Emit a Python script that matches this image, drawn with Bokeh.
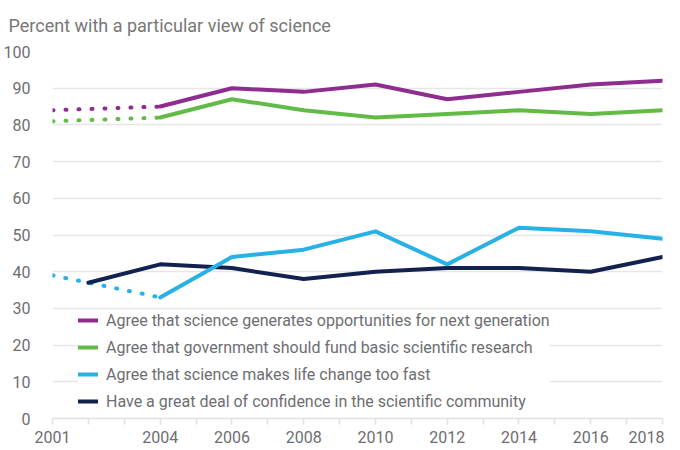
from bokeh.plotting import figure
from bokeh.models import FixedTicker, Legend, LegendItem, Range1d
from bokeh.embed import file_html
from bokeh.resources import INLINE

subtitle = "Percent with a particular view of science"

years_solid = [2004, 2006, 2008, 2010, 2012, 2014, 2016, 2018]
years_early = [2001, 2004]

opportunities = [85, 90, 89, 91, 87, 89, 91, 92]
opportunities_early = [84, 85]
fund = [82, 87, 84, 82, 83, 84, 83, 84]
fund_early = [81, 82]
too_fast = [33, 44, 46, 51, 42, 52, 51, 49]
too_fast_early = [39, 33]
confidence_years = [2002, 2004, 2006, 2008, 2010, 2012, 2014, 2016, 2018]
confidence = [37, 42, 41, 38, 40, 41, 41, 40, 44]

labels = [
    "Agree that science generates opportunities for next generation",
    "Agree that government should fund basic scientific research",
    "Agree that science makes life change too fast",
    "Have a great deal of confidence in the scientific community",
]
colors = ["#8e2c90", "#62bb46", "#27b1e6", "#13214f"]

x_ticks = list(range(2001, 2019))
x_labeled = [2001, 2004, 2006, 2008, 2010, 2012, 2014, 2016, 2018]
y_ticks = list(range(0, 101, 10))

FONT = "Roboto"
GREY = "#6d6e71"

p = figure(width=664, height=449, output_backend="svg", toolbar_location=None,
           x_range=Range1d(2001, 2018), y_range=Range1d(0, 100),
           min_border_left=46, min_border_right=2, min_border_top=51, min_border_bottom=31)
p.outline_line_color = None

p.title.text = subtitle
p.title.text_font = FONT
p.title.text_font_size = "18px"
p.title.text_font_style = "normal"
p.title.text_color = "#777777"
p.title.standoff = 28
p.title.offset = -44
p.title.vertical_align = "top"

p.xgrid.grid_line_color = None
p.ygrid.grid_line_color = "#e6e6e6"
p.ygrid.grid_line_width = 1.5
p.ygrid.ticker = FixedTicker(ticks=y_ticks)

p.xaxis.ticker = FixedTicker(ticks=x_ticks)
p.xaxis.major_label_overrides = {t: (str(t) if t in x_labeled else "") for t in x_ticks}
p.xaxis.axis_line_color = "#e0e0e0"
p.xaxis.axis_line_width = 1.5
p.xaxis.major_tick_line_color = "#e0e0e0"
p.xaxis.major_tick_line_width = 1.5
p.xaxis.major_tick_in = 0
p.xaxis.major_tick_out = 6
p.xaxis.minor_tick_line_color = None
p.xaxis.major_label_standoff = 6
p.xaxis.axis_label_standoff = 0

p.yaxis.ticker = FixedTicker(ticks=y_ticks)
p.yaxis.axis_line_color = None
p.yaxis.major_tick_line_color = None
p.yaxis.minor_tick_line_color = None
p.yaxis.major_label_standoff = 16

for ax in (p.xaxis, p.yaxis):
    ax.major_label_text_font = FONT
    ax.major_label_text_font_size = "16px"
    ax.major_label_text_color = GREY

LW = 4
DASH = "1 12"

p.line(years_early, opportunities_early, line_color=colors[0], line_width=LW, line_dash=DASH, line_cap="round")
p.line(years_early, fund_early, line_color=colors[1], line_width=LW, line_dash=DASH, line_cap="round")
p.line(years_early, too_fast_early, line_color=colors[2], line_width=LW, line_dash=DASH, line_cap="round")

r_conf = p.line(confidence_years, confidence, line_color=colors[3], line_width=LW, line_cap="round", line_join="round")
r_fast = p.line(years_solid, too_fast, line_color=colors[2], line_width=LW, line_cap="round", line_join="round")
r_fund = p.line(years_solid, fund, line_color=colors[1], line_width=LW, line_cap="round", line_join="round")
r_opp = p.line(years_solid, opportunities, line_color=colors[0], line_width=LW, line_cap="round", line_join="round")

legend = Legend(items=[LegendItem(label=labels[0], renderers=[r_opp]),
                       LegendItem(label=labels[1], renderers=[r_fund]),
                       LegendItem(label=labels[2], renderers=[r_fast]),
                       LegendItem(label=labels[3], renderers=[r_conf])],
                location=(26, 7))
legend.background_fill_color = "white"
legend.background_fill_alpha = 1
legend.border_line_color = None
legend.label_text_font = FONT
legend.label_text_font_size = "16px"
legend.label_text_color = GREY
legend.glyph_width = 20
legend.glyph_height = 20
legend.label_height = 20
legend.label_standoff = 8
legend.spacing = 7
legend.padding = 6
legend.margin = 0
p.add_layout(legend, "center")

open("out.html", "w").write(file_html(p, INLINE))
